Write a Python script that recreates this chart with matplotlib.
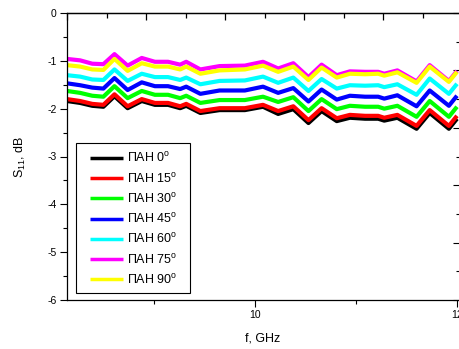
import matplotlib
import numpy as np

matplotlib.use("Agg")
import matplotlib.pyplot as plt
from matplotlib.patches import Rectangle
from matplotlib.ticker import MultipleLocator, NullFormatter

plt.rcParams["font.family"] = ["Liberation Sans", "DejaVu Sans"]
plt.rcParams["mathtext.fontset"] = "custom"
plt.rcParams["mathtext.rm"] = "Liberation Sans"
plt.rcParams["mathtext.it"] = "Liberation Sans:italic"
plt.rcParams["axes.unicode_minus"] = False

# frequency grid, GHz
freq = [8.14, 8.27, 8.39, 8.50, 8.61, 8.74, 8.88, 9.01, 9.14, 9.26,
        9.32, 9.46, 9.65, 9.90, 10.08, 10.23, 10.38, 10.53, 10.66, 10.81,
        10.94, 11.09, 11.22, 11.28, 11.41, 11.60, 11.73, 11.92, 12.00]

# S11, dB for each angle
s11_0 = [-1.84, -1.88, -1.94, -1.96, -1.74, -1.99, -1.84, -1.92, -1.92, -1.99,
         -1.94, -2.09, -2.03, -2.03, -1.96, -2.11, -2.01, -2.30, -2.05, -2.26,
         -2.19, -2.21, -2.21, -2.25, -2.19, -2.42, -2.09, -2.42, -2.21]
s11_15 = [-1.80, -1.84, -1.90, -1.92, -1.70, -1.95, -1.80, -1.88, -1.88, -1.95,
          -1.90, -2.05, -1.99, -1.99, -1.92, -2.05, -1.95, -2.24, -1.99, -2.20,
          -2.13, -2.15, -2.15, -2.19, -2.13, -2.36, -2.03, -2.36, -2.15]
s11_30 = [-1.63, -1.67, -1.73, -1.75, -1.53, -1.78, -1.63, -1.71, -1.71, -1.78,
          -1.73, -1.88, -1.82, -1.82, -1.75, -1.86, -1.76, -2.05, -1.80, -2.01,
          -1.94, -1.96, -1.96, -2.00, -1.94, -2.17, -1.84, -2.17, -1.96]
s11_45 = [-1.47, -1.51, -1.56, -1.58, -1.36, -1.61, -1.45, -1.53, -1.53, -1.59,
          -1.54, -1.69, -1.62, -1.62, -1.54, -1.67, -1.57, -1.85, -1.60, -1.81,
          -1.73, -1.75, -1.75, -1.79, -1.72, -1.95, -1.62, -1.94, -1.73]
s11_60 = [-1.30, -1.33, -1.39, -1.40, -1.18, -1.42, -1.27, -1.34, -1.34, -1.40,
          -1.35, -1.49, -1.42, -1.41, -1.33, -1.46, -1.35, -1.63, -1.38, -1.58,
          -1.51, -1.52, -1.51, -1.55, -1.49, -1.71, -1.37, -1.69, -1.48]
s11_75 = [-0.96, -0.99, -1.06, -1.07, -0.86, -1.10, -0.94, -1.02, -1.02, -1.08,
          -1.02, -1.18, -1.11, -1.10, -1.02, -1.16, -1.05, -1.34, -1.08, -1.30,
          -1.22, -1.23, -1.23, -1.27, -1.20, -1.43, -1.09, -1.42, -1.21]
s11_90 = [-1.09, -1.12, -1.18, -1.19, -0.96, -1.21, -1.05, -1.12, -1.12, -1.18,
          -1.12, -1.27, -1.20, -1.18, -1.10, -1.23, -1.12, -1.40, -1.14, -1.35,
          -1.27, -1.28, -1.27, -1.31, -1.24, -1.46, -1.12, -1.44, -1.23]

angles = ["0", "15", "30", "45", "60", "75", "90"]
series = [s11_0, s11_15, s11_30, s11_45, s11_60, s11_75, s11_90]
colors = ["#000000", "#ff0000", "#00ff00", "#0000ff", "#00ffff", "#ff00ff", "#ffff00"]

F0, F1 = 8.14, 12.02
fig = plt.figure(figsize=(4.59, 3.49), dpi=100)
ax = fig.add_axes([67 / 459, 1 - 300 / 349, 1 - 67 / 459, 287 / 349])

for ang, s, c in zip(angles, series, colors):
    ax.plot(freq, s, color=c, lw=3.0, solid_joinstyle="round", solid_capstyle="butt",
            label="ПАН " + ang + r"$^{\mathrm{o}}$")

ax.set_xlim(F0, F1)
ax.set_ylim(-6, 0)
ax.xaxis.set_major_locator(MultipleLocator(2))
ax.xaxis.set_minor_locator(MultipleLocator(1))
ax.yaxis.set_major_locator(MultipleLocator(1))
ax.yaxis.set_minor_locator(MultipleLocator(0.5))
ax.tick_params(which="both", direction="out", labelsize=7.5, width=0.8, pad=2.5)
ax.tick_params(which="major", length=5)
ax.tick_params(which="minor", length=3)
ax.spines["right"].set_visible(False)
for sp in ax.spines.values():
    sp.set_linewidth(0.9)

ax.set_xlabel("f, GHz", fontsize=9, labelpad=9)
ax.set_ylabel("S$_{11}$, dB", fontsize=9, labelpad=14)

# top and right scales carry ticks only
kx = 4.96 / (F1 - F0)
top = ax.secondary_xaxis("top", functions=(lambda f: (f - F0) * kx,
                                           lambda t: t / kx + F0))
top.xaxis.set_major_locator(MultipleLocator(1))
top.xaxis.set_minor_locator(MultipleLocator(0.5))
top.xaxis.set_major_formatter(NullFormatter())
top.tick_params(which="both", direction="in", width=0.9)
top.tick_params(which="major", length=5)
top.tick_params(which="minor", length=3.5)
top.spines["top"].set_linewidth(0.9)

ky = 5 / 6
right = ax.secondary_yaxis("right", functions=(lambda v: (v + 6) * ky,
                                               lambda r: r / ky - 6))
right.yaxis.set_major_locator(MultipleLocator(1))
right.yaxis.set_minor_locator(MultipleLocator(0.5))
right.yaxis.set_major_formatter(NullFormatter())
right.tick_params(which="both", direction="in", width=0.8)
right.tick_params(which="major", length=4)
right.tick_params(which="minor", length=2.5)
right.spines["right"].set_visible(False)

# legend box with a wider left margin than the default frame
ax.add_patch(Rectangle((0.023, 0.024), 0.291, 0.523, transform=ax.transAxes,
                       facecolor="white", edgecolor="black", lw=0.8, zorder=4))
leg = ax.legend(loc="upper left", bbox_to_anchor=(0.058, 0.518), borderaxespad=0,
                borderpad=0, fontsize=9, frameon=False, handlelength=2.7,
                handletextpad=0.3, labelspacing=0.5)
leg.set_zorder(5)
for h in leg.get_lines():
    h.set_linewidth(2.5)

fig.savefig("out.png", dpi=100)
